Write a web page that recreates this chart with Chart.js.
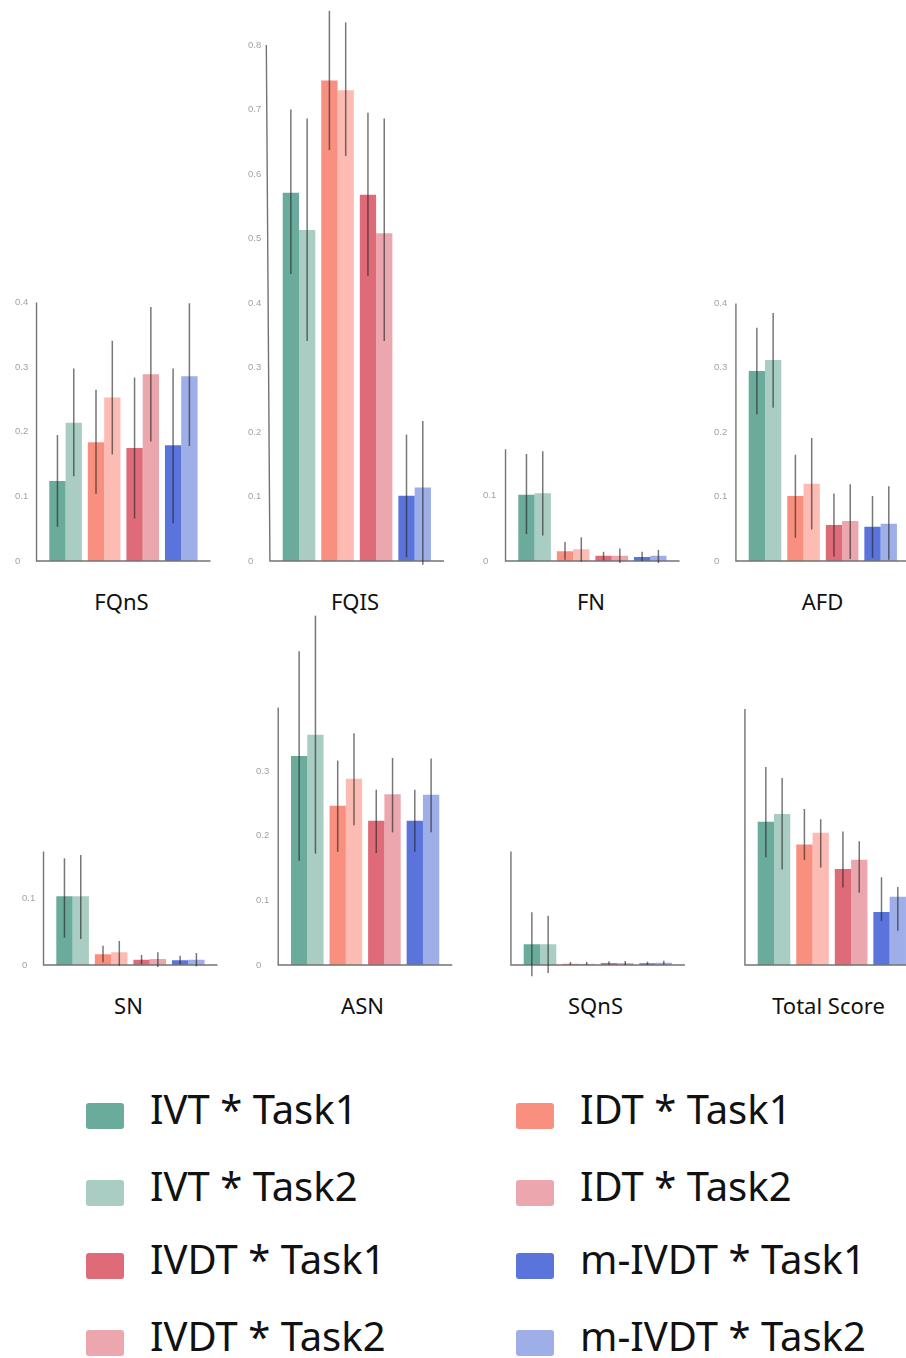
<!DOCTYPE html>
<html>
<head>
<meta charset="utf-8">
<script src="https://cdn.jsdelivr.net/npm/chart.js@4.4.1/dist/chart.umd.min.js"></script>
<style>
  html, body { margin: 0; padding: 0; background: #fff; width: 906px; height: 1358px; overflow: hidden; position: relative; }
  canvas.panel { position: absolute; }
  .title { position: absolute; font-family: 'Noto Sans', sans-serif; font-size: 22px; line-height: 22px; color: #111; white-space: nowrap; transform: translateX(-50%); }
  .swatch { position: absolute; width: 38px; height: 26px; border-radius: 3px; }
  .legend-text { position: absolute; font-family: 'Noto Sans', sans-serif; font-size: 40px; line-height: 40px; color: #111; white-space: nowrap; }
</style>
</head>
<body>
<script>
// Groups along each x axis; every group holds a Task1 and a Task2 bar.
const groups = ['IVT', 'IDT', 'IVDT', 'm-IVDT'];
const taskNames = ['Task1', 'Task2'];

// Series order in every value array below:
// IVT*Task1, IVT*Task2, IDT*Task1, IDT*Task2, IVDT*Task1, IVDT*Task2, m-IVDT*Task1, m-IVDT*Task2
const fqnsMean = [0.124, 0.214, 0.184, 0.253, 0.175, 0.289, 0.179, 0.286];
const fqnsLow  = [0.053, 0.131, 0.104, 0.165, 0.066, 0.185, 0.058, 0.178];
const fqnsHigh = [0.195, 0.298, 0.265, 0.341, 0.284, 0.393, 0.298, 0.399];

const fqisMean = [0.571, 0.513, 0.745, 0.730, 0.568, 0.508, 0.101, 0.114];
const fqisLow  = [0.445, 0.341, 0.637, 0.628, 0.442, 0.341, 0.006, -0.006];
const fqisHigh = [0.700, 0.686, 0.853, 0.835, 0.695, 0.686, 0.196, 0.217];

const fnMean = [0.101, 0.103, 0.015, 0.018, 0.008, 0.008, 0.006, 0.008];
const fnLow  = [0.041, 0.039, 0.002, -0.001, 0.001, -0.003, 0.000, -0.003];
const fnHigh = [0.163, 0.167, 0.029, 0.036, 0.014, 0.019, 0.014, 0.017];

const afdMean = [0.295, 0.312, 0.101, 0.120, 0.056, 0.062, 0.053, 0.058];
const afdLow  = [0.228, 0.238, 0.036, 0.049, 0.007, 0.003, 0.005, 0.002];
const afdHigh = [0.362, 0.385, 0.165, 0.191, 0.105, 0.119, 0.101, 0.116];

const snMean = [0.103, 0.103, 0.016, 0.019, 0.008, 0.009, 0.007, 0.008];
const snLow  = [0.041, 0.039, 0.004, -0.001, 0.001, -0.003, 0.001, -0.002];
const snHigh = [0.160, 0.165, 0.029, 0.036, 0.015, 0.019, 0.014, 0.018];

const asnMean = [0.323, 0.356, 0.246, 0.288, 0.223, 0.264, 0.223, 0.263];
const asnLow  = [0.161, 0.172, 0.175, 0.216, 0.173, 0.205, 0.175, 0.205];
const asnHigh = [0.485, 0.540, 0.316, 0.358, 0.271, 0.320, 0.271, 0.319];

const sqnsMean = [0.031, 0.031, 0.002, 0.002, 0.003, 0.003, 0.0025, 0.0035];
const sqnsLow  = [-0.017, -0.012, 0.000, 0.000, 0.0005, 0.000, 0.000, 0.0005];
const sqnsHigh = [0.079, 0.074, 0.0045, 0.0045, 0.0055, 0.006, 0.005, 0.0065];

const totalMean = [0.222, 0.234, 0.187, 0.205, 0.149, 0.163, 0.082, 0.106];
const totalLow  = [0.167, 0.148, 0.163, 0.151, 0.120, 0.112, 0.068, 0.053];
const totalHigh = [0.307, 0.290, 0.242, 0.226, 0.207, 0.192, 0.136, 0.121];

// Upper end of each panel's value axis
const axisTops = [0.4, 0.8, 0.17, 0.4, 0.17, 0.398, 0.17, 0.397];

// Legend entries, in two columns
const legendLeft  = ['IVT * Task1', 'IVT * Task2', 'IVDT * Task1', 'IVDT * Task2'];
const legendRight = ['IDT * Task1', 'IDT * Task2', 'm-IVDT * Task1', 'm-IVDT * Task2'];

// ---- styling ----
const barColors = ['#6aab9b', '#a9cdc3', '#f9907f', '#fdbcb3', '#e06b78', '#eca6ad', '#5a74db', '#9daee9'];
const legendLeftColors  = ['#6aab9b', '#a9cdc3', '#e06b78', '#eca6ad'];
const legendRightColors = ['#f9907f', '#eca6ad', '#5a74db', '#9daee9'];

const panels = [
  { name: 'FQnS',        mean: fqnsMean,  low: fqnsLow,  high: fqnsHigh,  firstBar: 49.3,  base: 561, ppu: 646, ticks: true,  skew: 0,    titleX: 121.5, titleY: 602 },
  { name: 'FQIS',        mean: fqisMean,  low: fqisLow,  high: fqisHigh,  firstBar: 282.7, base: 561, ppu: 645, ticks: true,  skew: -3.6, titleX: 355,   titleY: 602 },
  { name: 'FN',          mean: fnMean,    low: fnLow,    high: fnHigh,    firstBar: 518.3, base: 561, ppu: 657, ticks: true,  skew: 0,    titleX: 591,   titleY: 602 },
  { name: 'AFD',         mean: afdMean,   low: afdLow,   high: afdHigh,   firstBar: 748.7, base: 561, ppu: 644, ticks: true,  skew: 0,    titleX: 822.5, titleY: 602 },
  { name: 'SN',          mean: snMean,    low: snLow,    high: snHigh,    firstBar: 56.3,  base: 965, ppu: 667, ticks: true,  skew: 0,    titleX: 128.5, titleY: 1006 },
  { name: 'ASN',         mean: asnMean,   low: asnLow,   high: asnHigh,   firstBar: 291,   base: 965, ppu: 647, ticks: true,  skew: 0,    titleX: 362.5, titleY: 1006 },
  { name: 'SQnS',        mean: sqnsMean,  low: sqnsLow,  high: sqnsHigh,  firstBar: 523.7, base: 965, ppu: 667, ticks: false, skew: 0,    titleX: 595.5, titleY: 1006 },
  { name: 'Total Score', mean: totalMean, low: totalLow, high: totalHigh, firstBar: 757.7, base: 965, ppu: 645, ticks: false, skew: 0,    titleX: 828.5, titleY: 1006 }
];

const PITCH = 38.55;          // width of one group slot
const PAIR = 32.6;            // two adjacent bars
const PLOT_W = PITCH * groups.length;
const PAD_TOP = 100, PAD_BOTTOM = 16, CANVAS_W = 206;

const pickTask = (arr, t) => arr.filter((_, i) => i % 2 === t);

// Draws the value axis line, the base line and the error bars.
const axesAndErrors = {
  id: 'axesAndErrors',
  afterDatasetsDraw(chart, args, opts) {
    const { ctx, chartArea, scales: { y } } = chart;
    const base = y.getPixelForValue(0);
    const top = y.getPixelForValue(y.max);
    const ax = chartArea.left - 9.8;
    ctx.save();
    ctx.strokeStyle = '#737373';
    ctx.lineWidth = 1.4;
    ctx.beginPath();
    ctx.moveTo(ax + (opts.skew || 0), top);
    ctx.lineTo(ax, base);
    ctx.lineTo(chartArea.right + 10, base);
    ctx.stroke();

    ctx.strokeStyle = 'rgba(35,35,35,0.62)';
    ctx.lineWidth = 1.5;
    chart.data.datasets.forEach((ds, di) => {
      chart.getDatasetMeta(di).data.forEach((bar, i) => {
        ctx.beginPath();
        ctx.moveTo(bar.x, y.getPixelForValue(ds.errLow[i]));
        ctx.lineTo(bar.x, y.getPixelForValue(ds.errHigh[i]));
        ctx.stroke();
      });
    });
    ctx.restore();
  }
};

panels.forEach((p, idx) => {
  const topVal = axisTops[idx];
  const plotH = topVal * p.ppu;
  const plotLeft = p.firstBar - (PITCH - PAIR) / 2;
  const canvasLeft = Math.round(p.firstBar - 36.8);
  const yWidth = plotLeft - canvasLeft - 2;
  const padRight = CANVAS_W - 2 - yWidth - PLOT_W;
  const canvasTop = Math.round(p.base - plotH - PAD_TOP);
  const canvasH = Math.round(p.base + PAD_BOTTOM) - canvasTop;
  const padTop = p.base - plotH - canvasTop;
  const padBottom = canvasH - (p.base - canvasTop);

  const cv = document.createElement('canvas');
  cv.className = 'panel';
  cv.width = CANVAS_W;
  cv.height = canvasH;
  cv.style.left = canvasLeft + 'px';
  cv.style.top = canvasTop + 'px';
  document.body.appendChild(cv);

  new Chart(cv, {
    type: 'bar',
    data: {
      labels: groups,
      datasets: taskNames.map((t, ti) => ({
        label: t,
        data: pickTask(p.mean, ti),
        errLow: pickTask(p.low, ti),
        errHigh: pickTask(p.high, ti),
        backgroundColor: pickTask(barColors, ti),
        borderWidth: 0,
        categoryPercentage: PAIR / PITCH,
        barPercentage: 1
      }))
    },
    options: {
      responsive: false,
      devicePixelRatio: 1,
      animation: false,
      layout: { padding: { left: 2, right: padRight, top: padTop, bottom: padBottom } },
      plugins: {
        legend: { display: false },
        tooltip: { enabled: false },
        axesAndErrors: { skew: p.skew }
      },
      scales: {
        x: { display: false },
        y: {
          min: 0,
          max: topVal,
          grid: { display: false },
          border: { display: false },
          ticks: {
            display: p.ticks,
            stepSize: 0.1,
            includeBounds: false,
            crossAlign: 'far',
            color: '#a2a2a2',
            font: { family: 'Liberation Sans', size: 9.5 },
            callback: v => (Math.abs(v) < 1e-9 ? '0' : v.toFixed(1))
          },
          afterFit: s => { s.width = yWidth; }
        }
      }
    },
    plugins: [axesAndErrors]
  });

  const title = document.createElement('div');
  title.className = 'title';
  title.textContent = p.name;
  title.style.left = p.titleX + 'px';
  title.style.top = (p.titleY - 11.7) + 'px';
  document.body.appendChild(title);
});

// Legend
const legendRows = [1103, 1180, 1253, 1330];
function addLegendColumn(labels, colors, swatchX, textX) {
  labels.forEach((txt, i) => {
    const sw = document.createElement('div');
    sw.className = 'swatch';
    sw.style.left = swatchX + 'px';
    sw.style.top = legendRows[i] + 'px';
    sw.style.background = colors[i];
    document.body.appendChild(sw);
    const tx = document.createElement('div');
    tx.className = 'legend-text';
    tx.textContent = txt;
    tx.style.left = textX + 'px';
    tx.style.top = (legendRows[i] + 21 - 35.5) + 'px';
    document.body.appendChild(tx);
  });
}
addLegendColumn(legendLeft, legendLeftColors, 86, 150);
addLegendColumn(legendRight, legendRightColors, 516, 580);
</script>
</body>
</html>
